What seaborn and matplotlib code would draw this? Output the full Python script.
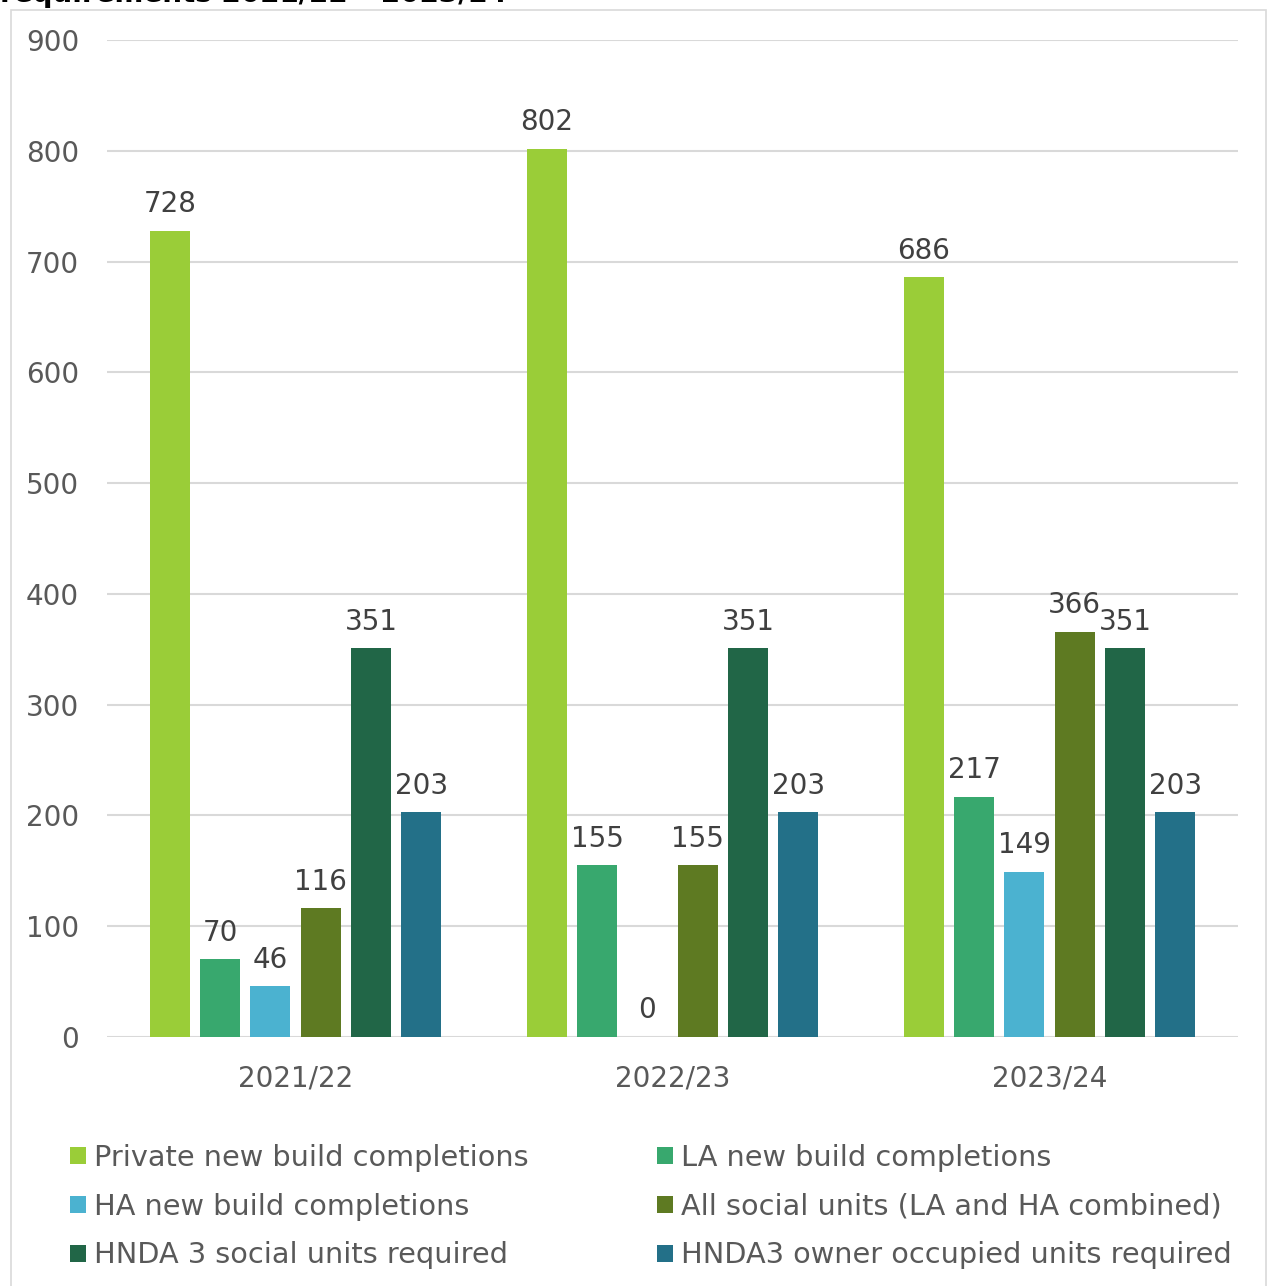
import matplotlib
matplotlib.use("Agg")
import matplotlib.pyplot as plt
from matplotlib.patches import Rectangle
import seaborn as sns
import pandas as pd

# Housing completions and HNDA3 requirements by year
years = ["2021/22", "2022/23", "2023/24"]
series_names = [
    "Private new build completions",
    "LA new build completions",
    "HA new build completions",
    "All social units (LA and HA combined)",
    "HNDA 3 social units required",
    "HNDA3 owner occupied units required",
]
private_completions = [728, 802, 686]
la_completions = [70, 155, 217]
ha_completions = [46, 0, 149]
all_social_units = [116, 155, 366]
hnda3_social_required = [351, 351, 351]
hnda3_owner_required = [203, 203, 203]
colors = ["#9ACD38", "#38A86E", "#4BB2D0", "#5E7A22", "#216647", "#237088"]
y_ticks = [0, 100, 200, 300, 400, 500, 600, 700, 800, 900]

values = [private_completions, la_completions, ha_completions,
          all_social_units, hnda3_social_required, hnda3_owner_required]
df = pd.DataFrame(
    [(y, s, v[i]) for s, v in zip(series_names, values) for i, y in enumerate(years)],
    columns=["year", "series", "units"],
)

sns.set_theme(style="white")
plt.rcParams["font.family"] = ["DejaVu Sans Condensed", "DejaVu Sans"]

W, H = 1268, 1286
fig = plt.figure(figsize=(W / 100, H / 100), dpi=100)
fig.patch.set_facecolor("white")
ax = fig.add_axes([107 / W, 1 - 1037 / H, (1238 - 107) / W, (1037 - 40) / H])

sns.barplot(data=df, x="year", y="units", hue="series", hue_order=series_names,
            palette=colors, width=0.8, gap=0.2, saturation=1, ax=ax,
            legend=False, errorbar=None, order=years, linewidth=0)

for cont in ax.containers:
    ax.bar_label(cont, fmt="%d", padding=9, fontsize=20, color="#404040")

ax.set_ylim(0, 900)
ax.set_yticks(y_ticks)
ax.set_xlabel("")
ax.set_ylabel("")
ax.grid(axis="y", color="#D9D9D9", linewidth=1.5)
ax.grid(axis="x", visible=False)
ax.set_axisbelow(True)
for sp in ax.spines.values():
    sp.set_visible(False)
ax.tick_params(axis="both", length=0, labelsize=20, labelcolor="#595959")
ax.tick_params(axis="y", pad=20)
ax.tick_params(axis="x", pad=20)

# Legend in two columns, filled row by row
handles = [Rectangle((0, 0), 1, 1, facecolor=c, edgecolor="none") for c in colors]
common = dict(frameon=False, fontsize=20.7, labelcolor="#595959", handlelength=0.55,
              handleheight=0.55, handletextpad=0.3, labelspacing=0.72,
              borderpad=0, borderaxespad=0, loc="upper left")
leg1 = fig.legend([handles[i] for i in (0, 2, 4)], [series_names[i] for i in (0, 2, 4)],
                  bbox_to_anchor=(70 / W, 1 - 1144 / H), **common)
leg2 = fig.legend([handles[i] for i in (1, 3, 5)], [series_names[i] for i in (1, 3, 5)],
                  bbox_to_anchor=(657 / W, 1 - 1144 / H), **common)

# Chart frame and title
fig.add_artist(Rectangle((11 / W, -0.01), (1266 - 11) / W, (H - 10) / H + 0.01,
                         transform=fig.transFigure, fill=False,
                         edgecolor="#D9D9D9", linewidth=1.2))
fig.text(0.0, 1 - 2 / H, "requirements 2021/22 \u2013 2023/24", fontsize=20,
         fontweight="bold", color="black", va="baseline", ha="left")

fig.savefig("out.png", dpi=100)
